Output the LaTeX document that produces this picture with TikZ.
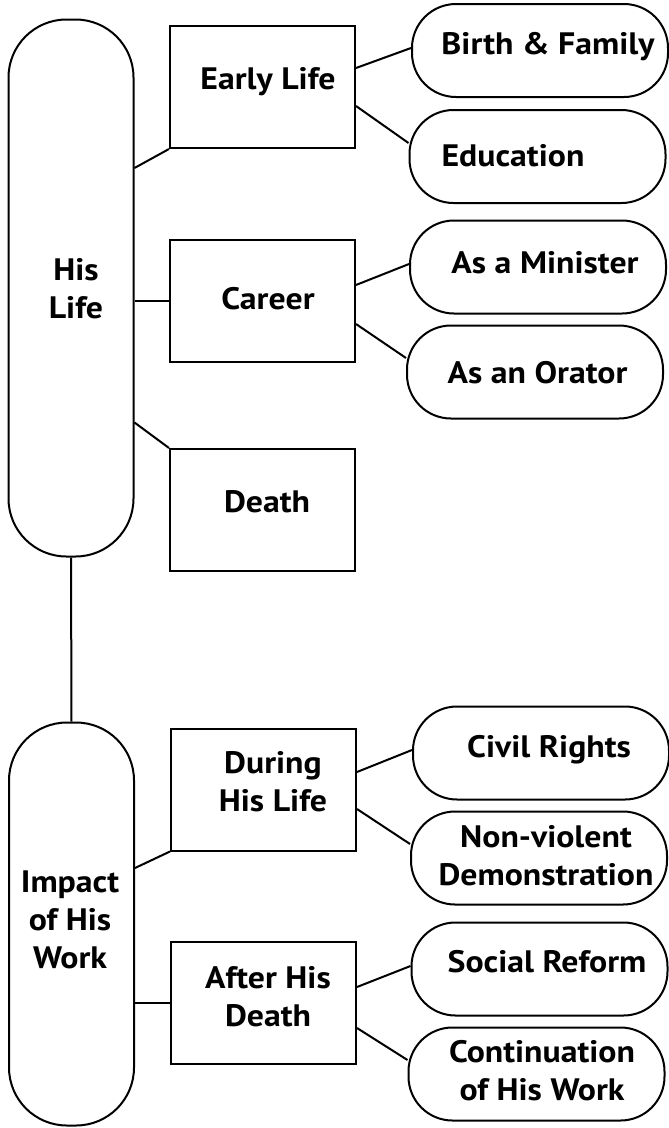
\documentclass[tikz,border=0pt]{standalone}
\usepackage{fontspec}
\setmainfont{PT Sans}[FakeStretch=1.09]
\begin{document}
\begin{tikzpicture}[x=1pt,y=-1pt,
  bx/.style={draw, line width=2pt, inner sep=0pt, minimum width=185pt, minimum height=122pt},
  pill/.style={draw, line width=2pt, rounded corners=44pt, inner sep=0pt, minimum width=256pt, minimum height=93pt},
  tall/.style={draw, line width=2pt, rounded corners=58pt, inner sep=0pt, minimum width=125pt},
  txt/.style={font=\fontsize{31}{38}\selectfont\bfseries, inner sep=0pt, text height=21.7pt, text depth=0pt},
  txtm/.style={font=\fontsize{31}{38}\selectfont\bfseries, inner sep=0pt, align=center},
  ln/.style={line width=2pt}]
\useasboundingbox (0,0) rectangle (669,1128);

% main pills
\node[tall, minimum height=537pt] (life) at (71,288) {};
\node[tall, minimum height=403pt] (impact) at (71.5,924) {};
\node[txtm] (t-life) at (76,289) {His\\Life};
\node[txtm] (t-impact) at (70,920) {Impact\\of His\\Work};

% second level boxes
\node[bx] (early) at (262.5,87) {};
\node[bx] (career) at (262.5,301) {};
\node[bx] (death) at (262.5,510) {};
\node[bx] (during) at (263.5,789.5) {};
\node[bx] (after) at (263.5,1003) {};
\node[txt] (t-early) at (268,79) {Early Life};
\node[txt] (t-career) at (268,299) {Career};
\node[txt] (t-death) at (267,502) {Death};
\node[txtm] (t-during) at (273,782) {During\\His Life};
\node[txtm] (t-after) at (268,997) {After His\\Death};

% third level pills
\node[pill] (birth) at (540,50.5) {};
\node[pill] (edu) at (537.5,156.5) {};
\node[pill] (minister) at (538,267) {};
\node[pill] (orator) at (535,372) {};
\node[pill] (civil) at (541,753) {};
\node[pill] (nonviol) at (539,858) {};
\node[pill] (social) at (539.5,969) {};
\node[pill] (cont) at (536.5,1074) {};
\node[txt] (t-birth) at (548,44) {Birth \& Family};
\node[txt] (t-edu) at (513,156) {Education};
\node[txt] (t-minister) at (545,262.5) {As a Minister};
\node[txt] (t-orator) at (537.5,373) {As an Orator};
\node[txt] (t-civil) at (549,747) {Civil Rights};
\node[txtm] (t-nonviol) at (546,856) {Non-violent\\Demonstration};
\node[txt] (t-social) at (547,962) {Social Reform};
\node[txtm] (t-cont) at (542,1071) {Continuation\\of His Work};

% connectors
\draw[ln] (life.south) -- (impact.north);
\draw[ln] (life.east |- 0,168) -- (early.south west);
\draw[ln] (life.east |- career.west) -- (career.west);
\draw[ln] (life.east |- 0,422.5) -- (death.north west);
\draw[ln] (early.east |- 0,68) -- (birth.west |- 0,48);
\draw[ln] (early.east |- 0,106) -- (edu.west |- 0,143);
\draw[ln] (career.east |- 0,285) -- (minister.west |- 0,264);
\draw[ln] (career.east |- 0,324) -- (orator.west |- 0,358);
\draw[ln] (impact.east |- 0,868) -- (during.south west);
\draw[ln] (impact.east |- after.west) -- (after.west);
\draw[ln] (during.east |- 0,772) -- (civil.west |- 0,750);
\draw[ln] (during.east |- 0,809) -- (nonviol.west |- 0,844);
\draw[ln] (after.east |- 0,987) -- (social.west |- 0,966);
\draw[ln] (after.east |- 0,1028) -- (cont.west |- 0,1060);
\end{tikzpicture}
\end{document}
